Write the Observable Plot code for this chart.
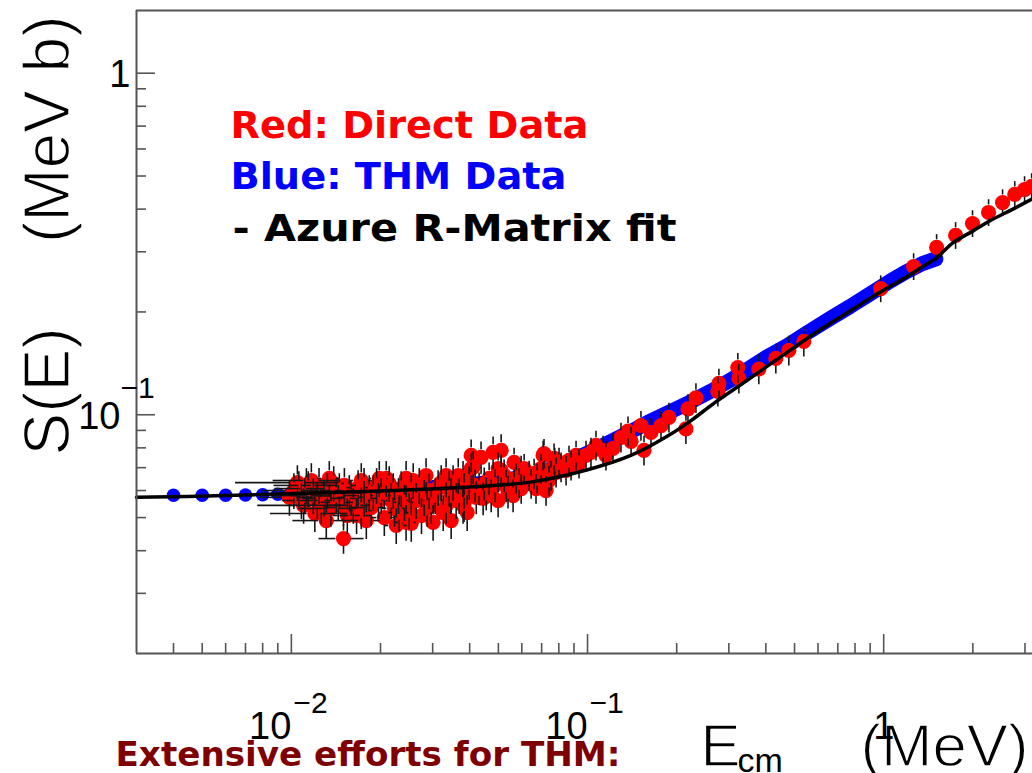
<!DOCTYPE html>
<html><head><meta charset="utf-8">
<script src="https://cdn.jsdelivr.net/npm/d3@7"></script>
<script src="https://cdn.jsdelivr.net/npm/@observablehq/plot@0.6"></script>
<style>body{margin:0;background:#fff;overflow:hidden} svg{display:block}</style>
</head><body><div id="chart"></div>
<script>
// ---- R-matrix fit (black line) ----
const fitE = [0.003,0.006,0.01,0.02,0.04,0.065,0.1,0.14,0.187,0.223,0.267,0.35,0.45,0.613,0.774,0.977,1.2,1.407,1.52,1.6,1.72,2.01,2.30,2.7,3.2];
const fitS = [0.0573,0.0580,0.0588,0.0598,0.0614,0.0636,0.0690,0.0760,0.0868,0.0960,0.1080,0.127,0.148,0.178,0.202,0.229,0.254,0.277,0.289,0.302,0.3195,0.346,0.371,0.398,0.430];

// ---- THM data (blue) ----
const thmE = [0.004,0.005,0.006,0.007,0.008,0.009,0.010,0.013,0.017,0.022,0.03,0.04,0.05,0.06,0.07,0.08,0.09,0.10,0.12,0.14,0.16,0.19,0.22,0.26,0.30,0.35,0.40,0.47,0.55,0.65,0.77,0.90,1.05,1.20,1.35,1.50];
const thmS = [0.0581,0.0581,0.0581,0.0582,0.0583,0.0585,0.0588,0.0592,0.0597,0.0603,0.0612,0.0624,0.0638,0.0656,0.0680,0.0708,0.0740,0.0772,0.0835,0.0893,0.0950,0.1020,0.1085,0.1170,0.1255,0.1365,0.1470,0.1590,0.1735,0.1900,0.2075,0.2260,0.2460,0.2630,0.2770,0.2860];

// ---- Direct data (red) ----
const redE = [0.0102,0.0106,0.0110,0.0111,0.0114,0.0120,0.0124,0.0129,0.0136,0.0139,0.0144,0.0150,0.0150,0.0151,0.0159,0.0166,0.0168,0.0176,0.0176,0.0186,0.0194,0.0197,0.0206,0.0214,0.0223,0.0230,0.0241,0.0244,0.0244,0.0254,0.0254,0.0275,0.0281,0.0285,0.0301,0.0313,0.0333,0.0333,0.0346,0.0366,0.0380,0.0380,0.0383,0.0383,0.0405,0.0411,0.0421,0.0437,0.0448,0.0455,0.0480,0.0499,0.0499,0.0539,0.0565,0.0588,0.0597,0.0611,0.0645,0.0660,0.0670,0.0708,0.0713,0.0753,0.0771,0.0775,0.0814,0.0866,0.0936,0.1027,0.1128,0.1219,0.1297,0.1370,0.1403,0.1515,0.1551,0.1638,0.1770,0.1883,0.2149,0.2183,0.2323,0.2755,0.2777,0.3217,0.3243,0.3788,0.4323,0.4782,0.5373,0.977,1.262,1.509,1.749,1.995,2.26,2.52,2.77,2.99,3.16,
  0.01048,0.01081,0.01168,0.01186,0.01262,0.01323,0.01418,0.01569,0.01618,0.01722,0.01832,0.02011,0.02091,0.02208,0.02313,0.02579,0.02641,0.02921,0.02967,0.03206,0.03517,0.03601,0.03983,0.04305,0.04653,0.04727,0.05229,0.05312,0.05741,0.06350,0.06967,0.07413,0.08013,0.08464,0.09146,0.1068,0.1154,0.03464,0.02260,0.01791,0.01312,0.04046,0.05109,
  0.00985,0.01124,0.01224,0.01343,0.01452,0.01545,0.01722,0.01891,0.01981,0.02174,0.02350,0.02500,0.02703,0.02875,0.03059,0.03256,0.03411,0.03687,0.03923,0.04174,0.04442,0.04875,0.05109,0.05606,0.05967,0.06757,0.07244,0.07831,0.08799,0.09884];
const redS = [0.0600,0.0608,0.0543,0.0580,0.0608,0.0514,0.0621,0.0569,0.0532,0.0629,0.0554,0.0535,0.0434,0.0621,0.0573,0.0507,0.0612,0.0621,0.0569,0.0535,0.0621,0.0561,0.0500,0.0629,0.0532,0.0580,0.0554,0.0651,0.0484,0.0600,0.0481,0.0507,0.0573,0.0664,0.0484,0.0612,0.0664,0.0543,0.0580,0.0664,0.0543,0.0651,0.0600,0.0550,0.0696,0.0702,0.0573,0.0750,0.0629,0.0588,0.0776,0.0696,0.0561,0.0595,0.0725,0.0633,0.0608,0.0696,0.0629,0.0673,0.0608,0.0760,0.0770,0.0664,0.0746,0.0725,0.0702,0.0735,0.0720,0.0776,0.0787,0.0797,0.0858,0.0895,0.0836,0.0929,0.0787,0.0888,0.0929,0.0982,0.0909,0.1040,0.1120,0.1170,0.1235,0.1375,0.1277,0.1361,0.1462,0.1543,0.1640,0.234,0.2716,0.309,0.335,0.363,0.391,0.418,0.4415,0.4565,0.466,
  0.0633,0.0561,0.0642,0.0580,0.0543,0.0600,0.0580,0.0592,0.0543,0.0642,0.0592,0.0580,0.0651,0.0600,0.0517,0.0642,0.0561,0.0600,0.0543,0.0633,0.0633,0.0561,0.0633,0.0608,0.0651,0.0580,0.0664,0.0621,0.0651,0.0664,0.0696,0.0642,0.0725,0.0687,0.0760,0.0813,0.0760,0.0490,0.0474,0.0490,0.0490,0.0760,0.0787,
  0.0573,0.0621,0.0561,0.0651,0.0600,0.0507,0.0524,0.0592,0.0651,0.0561,0.0608,0.0524,0.0621,0.0532,0.0580,0.0517,0.0608,0.0580,0.0517,0.0621,0.0569,0.0621,0.0687,0.0580,0.0687,0.0651,0.0600,0.0678,0.0711,0.0760];
const redSErrPct = [12,12,12,12,12,12,12,12,12,12,12,12,10,12,12,12,12,12,12,12,12,12,12,12,12,12,12,12,12,12,12,12,12,12,12,12,12,12,12,12,12,12,12,12,11,11,11,11,11,11,11,11,11,11,10,10,10,10,10,10,10,10,10,10,10,10,10,10,10,10,10,10,10,10,10,10,10,10,10,10,10,10,10,10,10,10,10,10,10,10,10,9,9,9,9,9,9,9,9,9,9,
  12,12,12,12,12,12,12,12,12,12,12,12,12,12,12,12,12,12,12,12,12,12,11,11,11,11,11,11,10,10,10,10,10,10,10,10,10,12,12,12,12,11,11,
  12,12,12,12,12,12,12,12,12,12,12,12,12,12,12,12,12,12,12,11,11,11,11,11,10,10,10,10,10,10];
const redEErr = [0.0022,0.0018,0.0033,0.0025,0.0015,0.0035,0.0015,0.0020,0.0030,0.0012,0.0018,0.0020,0.0026,0.0012,0.0016,0.0020,0.0014,0.0013,0.0018,0.0022,0.0012,0.0015,0.0018,0.0014,0.0020,0.0016,0.0018,0.0012,0.0020,0.0014,0.0016,0.0016,0.0014,0.0012,0.0015,0.0012,0.0012,0.0015,0.0012,0.0010,0.0012,0.0010,0.0010,0.0012,0.0010,0.0010,0.0010,0.0010,0.0010,0.0010,0.0010,0.0010,0.0010,0.0010,0,0,0,0,0,0,0,0,0,0,0,0,0,0,0,0,0,0,0,0,0,0,0,0,0,0,0,0,0,0,0,0,0,0,0,0,0,0,0,0,0,0,0,0,0,0,0,
  0.0040,0.0015,0.0030,0.0018,0.0028,0.0016,0.0025,0.0018,0.0022,0.0015,0.0018,0.0016,0.0014,0.0020,0.0018,0.0014,0.0018,0.0016,0.0018,0.0014,0.0012,0.0014,0.0012,0.0010,0.0010,0.0010,0,0,0,0,0,0,0,0,0,0,0,0.0015,0.0020,0.0020,0.0030,0.0010,0,
  0.0020,0.0025,0.0015,0.0012,0.0020,0.0016,0.0015,0.0012,0.0014,0.0016,0.0012,0.0015,0.0012,0.0014,0.0012,0.0014,0.0012,0.0010,0.0012,0.0010,0.0010,0.0010,0,0,0,0,0,0,0,0];

// ---- axes ----
const xMajor = [0.01, 0.1, 1];
const xTickBase = ["10", "10", "1"];
const xTickExp = ["\u22122", "\u22121", ""];
const xMinor = [0.004,0.005,0.006,0.007,0.008,0.009,0.02,0.03,0.04,0.05,0.06,0.07,0.08,0.09,0.2,0.3,0.4,0.5,0.6,0.7,0.8,0.9,2,3];
const yMajor = [0.1, 1];
const yTickBase = ["10", "1"];
const yTickExp = ["\u22121", ""];
const yMinor = [0.03,0.04,0.05,0.06,0.07,0.08,0.09,0.2,0.3,0.4,0.5,0.6,0.7,0.8,0.9];
const xDomain = [0.003, 3.18];
const yDomain = [0.02, 1.526];

const legendLabels = ["Red: Direct Data", "Blue: THM Data", "- Azure R-Matrix fit"];
const footLabel = "Extensive efforts for THM:";
const yTitleParts = ["S(E)", "(MeV b)"];
const xTitleParts = ["E", "cm", "(MeV)"];

// ---- tables ----
const fit = fitE.map((E, i) => ({E, S: fitS[i]}));
const thm = thmE.map((E, i) => ({E, S: thmS[i]}));
const red = redE.map((E, i) => ({E, S: redS[i], p: redSErrPct[i] / 100, dE: redEErr[i]}));
const xt = xMajor.map((v, i) => ({v, base: xTickBase[i], exp: xTickExp[i]}));
const yt = yMajor.map((v, i) => ({v, base: yTickBase[i], exp: yTickExp[i]}));

const W = 1032, H = 773, ML = 136, MR = 0, MT = 10, MB = 120;
const PW = W - ML - MR, PH = H - MT - MB;
const R = 7.6;
const decY = PH / Math.log10(yDomain[1] / yDomain[0]);
const decX = PW / Math.log10(xDomain[1] / xDomain[0]);
const GY = Math.pow(10, R / decY), GX = Math.pow(10, R / decX);

const tickFont = "Liberation Sans, Arial, Helvetica, sans-serif";
const comic = "DejaVu Sans, Verdana, sans-serif";
const axisCol = "#555";
const barCol = "#161616";
const thin = {stroke: "white", strokeWidth: 1.4, paintOrder: "normal"};

const chart = Plot.plot({
  width: W, height: H,
  marginLeft: ML, marginRight: MR, marginTop: MT, marginBottom: MB,
  x: {type: "log", domain: xDomain, axis: null},
  y: {type: "log", domain: yDomain, axis: null},
  marks: [
    Plot.line(thm.filter(d => d.E >= 0.01), {x: "E", y: "S", stroke: "#0000ff", strokeWidth: 15, strokeLinecap: "round", strokeLinejoin: "round"}),
    Plot.dot(thm, {x: "E", y: "S", r: 6.8, fill: "#0000ff"}),
    Plot.dot(red, {x: "E", y: "S", r: R, fill: "#ff0000"}),
    Plot.ruleX(red.filter(d => 1 + d.p > GY), {x: "E", y1: d => d.S * GY, y2: d => d.S * (1 + d.p), stroke: barCol, strokeWidth: 1.6}),
    Plot.ruleX(red.filter(d => 1 / (1 - d.p) > GY), {x: "E", y1: d => d.S * (1 - d.p), y2: d => d.S / GY, stroke: barCol, strokeWidth: 1.6}),
    Plot.ruleY(red.filter(d => d.dE > 0 && d.E + d.dE > d.E * GX), {y: "S", x1: d => d.E * GX, x2: d => d.E + d.dE, stroke: barCol, strokeWidth: 1.6}),
    Plot.ruleY(red.filter(d => d.dE > 0 && d.E - d.dE < d.E / GX), {y: "S", x1: d => d.E - d.dE, x2: d => d.E / GX, stroke: barCol, strokeWidth: 1.6}),
    Plot.line(fit, {x: "E", y: "S", stroke: "#000", strokeWidth: 3.5, curve: "catmull-rom"}),
    Plot.ruleY([yDomain[0]], {stroke: axisCol, strokeWidth: 2}),
    Plot.ruleY([yDomain[1]], {stroke: axisCol, strokeWidth: 2}),
    Plot.ruleX([xDomain[0]], {stroke: axisCol, strokeWidth: 2}),
    Plot.tickX(xMinor, {x: d => d, insetTop: PH - 10, stroke: axisCol, strokeWidth: 1.6}),
    Plot.tickX(xMajor, {x: d => d, insetTop: PH - 19, stroke: axisCol, strokeWidth: 1.6}),
    Plot.tickY(yMinor, {y: d => d, insetRight: PW - 10, stroke: axisCol, strokeWidth: 1.6}),
    Plot.tickY(yMajor, {y: d => d, insetRight: PW - 19, stroke: axisCol, strokeWidth: 1.6}),
    // axis titles (drawn before tick labels so the labels stay on top)
    Plot.text([yTitleParts[0]], {text: d => d, frameAnchor: "top-left", rotate: -90, textAnchor: "start", lineAnchor: "bottom", dx: -68, dy: 445, fontSize: 64, fontFamily: tickFont, fill: "#000", ...thin}),
    Plot.text([yTitleParts[1]], {text: d => d, frameAnchor: "top-left", rotate: -90, textAnchor: "end", lineAnchor: "bottom", dx: -68, dy: 5, fontSize: 64, fontFamily: tickFont, fill: "#000", ...thin}),
    Plot.text([xTitleParts[0]], {text: d => d, frameAnchor: "bottom-left", textAnchor: "start", lineAnchor: "bottom", dx: 564, dy: 112, fontSize: 60, fontFamily: tickFont, fill: "#000", ...thin}),
    Plot.text([xTitleParts[1]], {text: d => d, frameAnchor: "bottom-left", textAnchor: "start", lineAnchor: "bottom", dx: 601, dy: 118, fontSize: 34, fontFamily: tickFont, fill: "#000"}),
    Plot.text([xTitleParts[2]], {text: d => d, frameAnchor: "bottom-left", textAnchor: "start", lineAnchor: "bottom", dx: 724, dy: 112, fontSize: 60, fontFamily: tickFont, fill: "#000", ...thin}),
    // tick labels
    Plot.text(xt.filter(d => d.exp), {x: "v", text: "base", frameAnchor: "bottom", textAnchor: "end", lineAnchor: "bottom", dx: 0, dy: 85, fontSize: 38, fontFamily: tickFont, fill: "#000"}),
    Plot.text(xt.filter(d => d.exp), {x: "v", text: "exp", frameAnchor: "bottom", textAnchor: "start", lineAnchor: "bottom", dx: 2, dy: 59, fontSize: 30, fontFamily: tickFont, fill: "#000"}),
    Plot.text(xt.filter(d => !d.exp), {x: "v", text: "base", frameAnchor: "bottom", textAnchor: "middle", lineAnchor: "bottom", dx: 0, dy: 85, fontSize: 38, fontFamily: tickFont, fill: "#000"}),
    Plot.text(yt.filter(d => d.exp), {y: "v", text: "base", frameAnchor: "left", textAnchor: "end", lineAnchor: "bottom", dx: -16, dy: 14, fontSize: 38, fontFamily: tickFont, fill: "#000"}),
    Plot.text(yt.filter(d => d.exp), {y: "v", text: "exp", frameAnchor: "left", textAnchor: "start", lineAnchor: "bottom", dx: -16, dy: -17, fontSize: 30, fontFamily: tickFont, fill: "#000"}),
    Plot.text(yt.filter(d => !d.exp), {y: "v", text: "base", frameAnchor: "left", textAnchor: "end", lineAnchor: "bottom", dx: -6, dy: 14, fontSize: 38, fontFamily: tickFont, fill: "#000"}),
    // legend & footnote
    Plot.text([legendLabels[0]], {text: d => d, frameAnchor: "top-left", textAnchor: "start", lineAnchor: "bottom", dx: 94, dy: 127, fontSize: 38, fontWeight: "bold", fontFamily: comic, fill: "#ff0000"}),
    Plot.text([legendLabels[1]], {text: d => d, frameAnchor: "top-left", textAnchor: "start", lineAnchor: "bottom", dx: 94, dy: 178, fontSize: 38, fontWeight: "bold", fontFamily: comic, fill: "#0000ff"}),
    Plot.text([legendLabels[2]], {text: d => d, frameAnchor: "top-left", textAnchor: "start", lineAnchor: "bottom", dx: 96, dy: 230, fontSize: 38, fontWeight: "bold", fontFamily: comic, fill: "#000"}),
    Plot.text([footLabel], {text: d => d, frameAnchor: "bottom-left", textAnchor: "start", lineAnchor: "bottom", dx: -21, dy: 112, fontSize: 34, fontWeight: "bold", fontFamily: comic, fill: "#7f0000"})
  ]
});
// stretch labels to the reference widths
const widths = new Map([[legendLabels[0], 358], [legendLabels[1], 336], [legendLabels[2], 444], [footLabel, 505], [xTitleParts[2], 168]]);
d3.select(chart).selectAll("text").each(function() {
  const t = this.textContent;
  if (widths.has(t)) d3.select(this).attr("textLength", widths.get(t)).attr("lengthAdjust", "spacingAndGlyphs");
});
document.getElementById("chart").appendChild(chart);
</script>
</body></html>
